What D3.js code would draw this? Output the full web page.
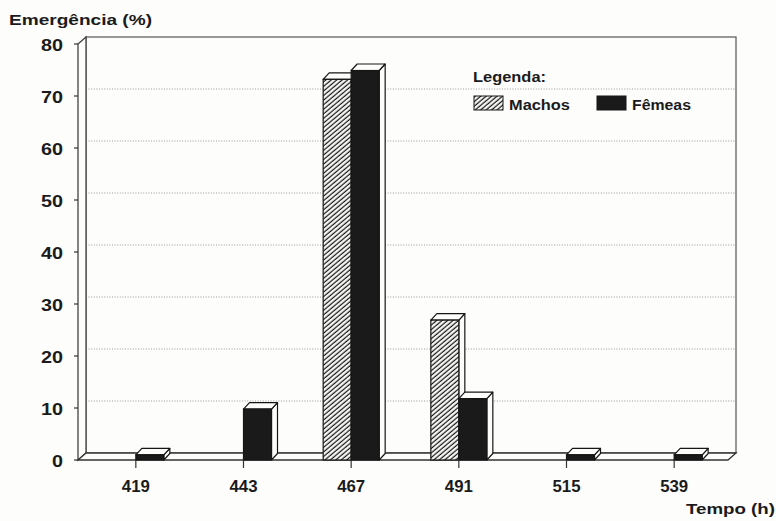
<!DOCTYPE html>
<html>
<head>
<meta charset="utf-8">
<script src="https://cdn.jsdelivr.net/npm/d3@7"></script>
<style>
  html, body { margin: 0; padding: 0; background: #fdfdfb; }
  svg { display: block; }
  text { font-family: "Liberation Sans", Arial, Helvetica, sans-serif; font-weight: bold; fill: #1b1b1b; }
</style>
</head>
<body>
<svg id="chart" width="776" height="521"></svg>
<script>
// Emergence (%) of males and females per time class (h)
const categories = ["419", "443", "467", "491", "515", "539"];
const machos = [0, 0, 73.2, 26.9, 0, 0];
const femeas = [1.0, 9.8, 74.9, 11.8, 1.0, 1.0];
const yTicks = [0, 10, 20, 30, 40, 50, 60, 70, 80];
const seriesNames = ["Machos", "Fêmeas"];

const svg = d3.select("#chart");
const ink = "#161616";

// Scales: front plane of the 3D box
const x = d3.scaleBand().domain(categories).range([82, 728]);
const y = d3.scaleLinear().domain([0, 80]).range([460, 44]);

// Depth offsets of the oblique projection
const wallDX = 8, wallDY = -7;   // box walls / floor
const barDX = 6, barDY = -6.5;   // bar depth
const barW = 28;

// Hatch pattern for Machos
const defs = svg.append("defs");
const pat = defs.append("pattern")
  .attr("id", "hatch")
  .attr("patternUnits", "userSpaceOnUse")
  .attr("width", 3.5).attr("height", 3.5)
  .attr("patternTransform", "rotate(-40)");
pat.append("rect").attr("width", 3.5).attr("height", 3.5).attr("fill", "#fdfdfb");
pat.append("line")
  .attr("x1", 0).attr("y1", 1.2).attr("x2", 3.5).attr("y2", 1.2)
  .attr("stroke", ink).attr("stroke-width", 1.25);

const x0 = x.range()[0] - 4, x1 = x.range()[1];
const yTop = y(80), yBase = y(0);

// Back wall
svg.append("rect")
  .attr("x", x0 + wallDX).attr("y", yTop + wallDY)
  .attr("width", x1 - x0).attr("height", yBase - yTop)
  .attr("fill", "#fdfdfb")
  .attr("stroke", "#555").attr("stroke-width", 1.2);

// Dotted gridlines on the back wall
svg.append("g").selectAll("line")
  .data(yTicks.filter(v => v > 0 && v < 80))
  .join("line")
  .attr("x1", x0 + wallDX).attr("x2", x1 + wallDX)
  .attr("y1", d => y(d) + wallDY).attr("y2", d => y(d) + wallDY)
  .attr("stroke", "#9a9a9a").attr("stroke-width", 1)
  .attr("stroke-dasharray", "1,1.6");

// Left wall (thin side panel)
svg.append("path")
  .attr("d", `M${x0},${yBase} L${x0},${yTop} L${x0 + wallDX},${yTop + wallDY} L${x0 + wallDX},${yBase + wallDY} Z`)
  .attr("fill", "#fdfdfb").attr("stroke", "#444").attr("stroke-width", 1.3);

// Floor
svg.append("path")
  .attr("d", `M${x0},${yBase} L${x1},${yBase} L${x1 + wallDX},${yBase + wallDY} L${x0 + wallDX},${yBase + wallDY} Z`)
  .attr("fill", "#fdfdfb").attr("stroke", "#333").attr("stroke-width", 1.3);

// Y axis ticks and labels
const yAxis = svg.append("g");
yAxis.selectAll("line")
  .data(yTicks).join("line")
  .attr("x1", x0 - 4).attr("x2", x0)
  .attr("y1", d => y(d)).attr("y2", d => y(d))
  .attr("stroke", "#333").attr("stroke-width", 1.2);
yAxis.selectAll("text")
  .data(yTicks).join("text")
  .attr("x", 63).attr("y", d => y(d) + 6.5)
  .attr("text-anchor", "end")
  .attr("font-size", 17)
  .attr("textLength", d => String(d).length * 11)
  .attr("lengthAdjust", "spacingAndGlyphs")
  .text(d => d);

// One 3D bar: front face, top face, right side face
function bar3d(g, left, value, fill) {
  const top = y(value), bottom = y(0), right = left + barW;
  g.append("path")
    .attr("d", `M${right},${bottom} L${right + barDX},${bottom + barDY} L${right + barDX},${top + barDY} L${right},${top} Z`)
    .attr("fill", "#fdfdfb").attr("stroke", ink).attr("stroke-width", 1.2).attr("stroke-linejoin", "round");
  g.append("path")
    .attr("d", `M${left},${top} L${left + barDX},${top + barDY} L${right + barDX},${top + barDY} L${right},${top} Z`)
    .attr("fill", "#fdfdfb").attr("stroke", ink).attr("stroke-width", 1.2).attr("stroke-linejoin", "round");
  g.append("rect")
    .attr("x", left).attr("y", top)
    .attr("width", barW).attr("height", bottom - top)
    .attr("fill", fill).attr("stroke", ink).attr("stroke-width", 1.2);
}

const bars = svg.append("g");
categories.forEach((c, i) => {
  const cx = x(c) + x.bandwidth() / 2;
  if (machos[i] > 0) bar3d(bars, cx - barW, machos[i], "url(#hatch)");
  if (femeas[i] > 0) bar3d(bars, cx, femeas[i], "#1a1a1a");
});

// X axis ticks and labels
const xAxis = svg.append("g");
xAxis.selectAll("line")
  .data(categories).join("line")
  .attr("x1", d => x(d) + x.bandwidth() / 2).attr("x2", d => x(d) + x.bandwidth() / 2)
  .attr("y1", yBase).attr("y2", yBase + 8)
  .attr("stroke", "#333").attr("stroke-width", 1.2);
xAxis.selectAll("text")
  .data(categories).join("text")
  .attr("x", d => x(d) + x.bandwidth() / 2).attr("y", 492)
  .attr("text-anchor", "middle")
  .attr("font-size", 16)
  .attr("textLength", 28)
  .attr("lengthAdjust", "spacingAndGlyphs")
  .text(d => d);

// Axis titles
svg.append("text")
  .attr("x", 9).attr("y", 25)
  .attr("font-size", 15.5)
  .attr("textLength", 143).attr("lengthAdjust", "spacingAndGlyphs")
  .text("Emergência (%)");
svg.append("text")
  .attr("x", 686).attr("y", 514)
  .attr("font-size", 14.5)
  .attr("textLength", 89).attr("lengthAdjust", "spacingAndGlyphs")
  .text("Tempo (h)");

// Legend
const legend = svg.append("g");
legend.append("text")
  .attr("x", 473).attr("y", 82)
  .attr("font-size", 14.5)
  .attr("textLength", 73).attr("lengthAdjust", "spacingAndGlyphs")
  .text("Legenda:");
const legendItems = [
  { name: seriesNames[0], fill: "url(#hatch)", sx: 474, tx: 509, tw: 61 },
  { name: seriesNames[1], fill: "#1a1a1a", sx: 597, tx: 632, tw: 59 }
];
legendItems.forEach(it => {
  legend.append("rect")
    .attr("x", it.sx).attr("y", 96).attr("width", 29).attr("height", 14)
    .attr("fill", it.fill).attr("stroke", ink).attr("stroke-width", 1);
  legend.append("text")
    .attr("x", it.tx).attr("y", 110)
    .attr("font-size", 14.5)
    .attr("textLength", it.tw).attr("lengthAdjust", "spacingAndGlyphs")
    .text(it.name);
});
</script>
</body>
</html>
